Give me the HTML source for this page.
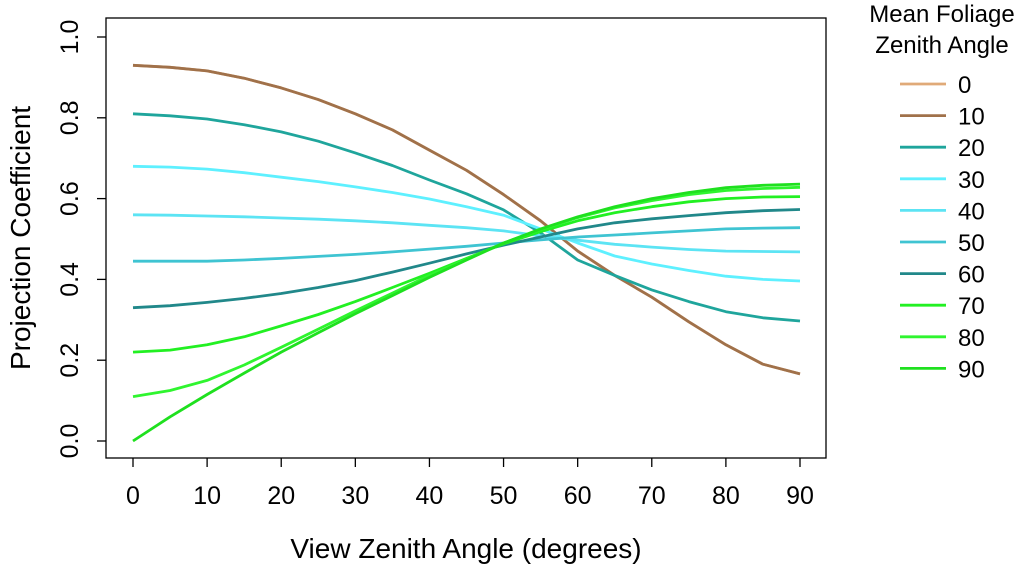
<!DOCTYPE html>
<html><head><meta charset="utf-8"><style>
body{margin:0;background:#fff}
svg{font-family:"Liberation Sans",sans-serif}
</style></head><body>
<svg id="chart" width="1024" height="568"></svg>
<script>
const xs=[0,5,10,15,20,25,30,35,40,45,50,55,60,65,70,75,80,85,90];
const seriesNames=["0","10","20","30","40","50","60","70","80","90"];
const colors=["#e0aa78","#a0714a","#1fa59c","#5ef0ff","#5ce4f4","#3fc4d2","#21888a","#22f022","#2ff52f","#1fe01f"];
const s0=[0.93,0.925,0.916,0.898,0.874,0.845,0.81,0.77,0.72,0.67,0.61,0.545,0.47,0.41,0.356,0.295,0.238,0.19,0.166];
const s10=[0.93,0.925,0.916,0.898,0.874,0.845,0.81,0.77,0.72,0.67,0.61,0.545,0.47,0.41,0.356,0.295,0.238,0.19,0.166];
const s20=[0.81,0.805,0.797,0.783,0.765,0.742,0.713,0.682,0.646,0.612,0.572,0.515,0.448,0.41,0.374,0.345,0.32,0.305,0.297];
const s30=[0.68,0.678,0.673,0.664,0.653,0.642,0.629,0.615,0.599,0.58,0.559,0.525,0.49,0.458,0.438,0.422,0.408,0.4,0.396];
const s40=[0.56,0.559,0.557,0.555,0.552,0.549,0.545,0.54,0.534,0.528,0.52,0.508,0.497,0.487,0.48,0.474,0.47,0.469,0.468];
const s50=[0.445,0.445,0.445,0.448,0.452,0.457,0.462,0.468,0.475,0.482,0.49,0.498,0.505,0.51,0.515,0.52,0.525,0.527,0.528];
const s60=[0.33,0.335,0.343,0.353,0.365,0.38,0.397,0.418,0.44,0.463,0.485,0.505,0.525,0.54,0.55,0.558,0.565,0.57,0.573];
const s70=[0.22,0.225,0.238,0.258,0.285,0.313,0.345,0.38,0.415,0.452,0.488,0.518,0.545,0.565,0.58,0.592,0.6,0.604,0.605];
const s80=[0.11,0.125,0.15,0.188,0.232,0.277,0.322,0.366,0.41,0.45,0.49,0.523,0.553,0.577,0.595,0.61,0.62,0.625,0.628];
const s90=[0.0,0.06,0.115,0.168,0.22,0.268,0.315,0.36,0.405,0.448,0.49,0.525,0.555,0.58,0.6,0.615,0.627,0.633,0.636];
const allSeries=[s0,s10,s20,s30,s40,s50,s60,s70,s80,s90];
const xTicks=[0,10,20,30,40,50,60,70,80,90];
const yTicks=[0,0.2,0.4,0.6,0.8,1.0];
const yTickLabels=["0.0","0.2","0.4","0.6","0.8","1.0"];

const NS="http://www.w3.org/2000/svg";
const svg=document.getElementById('chart');
const X=v=>133+v*(800-133)/90;
const Y=v=>441-v*404;
function mk(t,a,txt){const e=document.createElementNS(NS,t);for(const k in a)e.setAttribute(k,a[k]);if(txt!==undefined)e.textContent=txt;svg.appendChild(e);return e;}

let e=mk('rect',{x:106,y:18,width:720,height:440,fill:'none',stroke:'#000','stroke-width':1.3});



xTicks.forEach(v=>{
 let t=mk('line',{x1:X(v),x2:X(v),y1:458,y2:467,stroke:'#000','stroke-width':1.3});
 
 
 let l=mk('text',{x:X(v),y:504,'font-size':25,'text-anchor':'middle'},String(v));
 
 
});
yTicks.forEach((v,i)=>{
 let t=mk('line',{x1:97,x2:106,y1:Y(v),y2:Y(v),stroke:'#000','stroke-width':1.3});
 
 
 let l=mk('text',{x:78,y:Y(v),'font-size':25,'text-anchor':'middle',transform:`rotate(-90 78 ${Y(v)})`},yTickLabels[i]);
 
 
});
let xt=mk('text',{x:466,y:558,'font-size':28,'text-anchor':'middle'},'View Zenith Angle (degrees)');


let yt=mk('text',{x:30,y:238,'font-size':28,'text-anchor':'middle',transform:'rotate(-90 30 238)'},'Projection Coefficient');



allSeries.forEach((s,i)=>{
 const d=s.map((v,j)=>(j?'L':'M')+X(xs[j]).toFixed(1)+','+Y(v).toFixed(1)).join(' ');
 let p=mk('path',{d:d,fill:'none',stroke:colors[i],'stroke-width':2.8,'stroke-linejoin':'round'});
 
 
});

let lt1=mk('text',{x:942,y:22,'font-size':24,'text-anchor':'middle'},'Mean Foliage');


let lt2=mk('text',{x:942,y:53,'font-size':24,'text-anchor':'middle'},'Zenith Angle');


seriesNames.forEach((n,i)=>{
 const y=84+i*31.6;
 let l=mk('line',{x1:900,x2:946,y1:y,y2:y,stroke:colors[i],'stroke-width':2.8});
 
 
 let t=mk('text',{x:958,y:y+9,'font-size':24},n);
 
 
});
</script>
</body></html>
